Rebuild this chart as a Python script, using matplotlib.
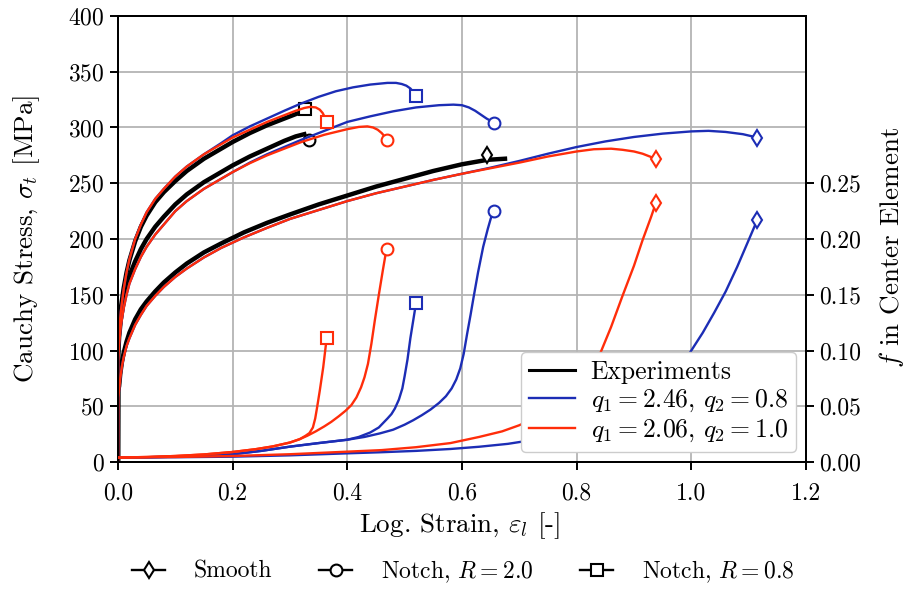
import matplotlib
matplotlib.use("Agg")
import matplotlib.pyplot as plt
from matplotlib.lines import Line2D
from matplotlib.ticker import FormatStrFormatter

plt.rcParams.update({
    "font.family": "serif",
    "font.serif": ["cmr10"],
    "mathtext.fontset": "cm",
    "axes.formatter.use_mathtext": True,
    "axes.unicode_minus": False,
    "font.size": 17,
})

BLUE = "#1c2db5"
RED = "#ff2d0a"

# ---------------- Cauchy stress [MPa] (left axis) ----------------
# Experiments
exp_smooth_strain = [0, 0.0003, 0.002, 0.004, 0.007, 0.01, 0.015, 0.02, 0.03, 0.04, 0.05, 0.065, 0.08, 0.1, 0.12,
                     0.15, 0.18, 0.22, 0.26, 0.3, 0.35, 0.4, 0.45, 0.5, 0.55, 0.6, 0.644, 0.675]
exp_smooth_stress = [0, 64, 68, 79, 90, 98, 108, 116, 128, 137, 144, 153, 161, 170, 178,
                     188, 196, 206, 214.5, 222, 231, 239, 247, 254, 261, 267, 271, 272]
exp_r20_strain = [0, 0.0003, 0.002, 0.005, 0.01, 0.015, 0.02, 0.03, 0.04, 0.05, 0.065, 0.08, 0.1, 0.12,
                  0.15, 0.18, 0.2, 0.23, 0.26, 0.29, 0.31, 0.325]
exp_r20_stress = [0, 95, 112, 128, 145, 157, 167, 180, 191, 200, 211, 220, 231, 240,
                  251, 260, 266, 274, 281, 288, 292, 294]
exp_r08_strain = [0, 0.0003, 0.002, 0.005, 0.01, 0.015, 0.02, 0.03, 0.04, 0.05, 0.065, 0.08, 0.1, 0.12,
                  0.15, 0.18, 0.2, 0.23, 0.26, 0.29, 0.31, 0.327]
exp_r08_stress = [0, 105, 122, 138, 156, 170, 181, 198, 211, 221, 233, 242, 252, 261,
                  272, 281, 287, 295, 302, 308, 312, 315]
# fracture points of the experiments
exp_fail_smooth = (0.644, 275)
exp_fail_r20 = (0.333, 289)
exp_fail_r08 = (0.327, 317)

# q1 = 2.46, q2 = 0.8
b_smooth_strain = [0, 0.0003, 0.002, 0.004, 0.007, 0.01, 0.015, 0.02, 0.03, 0.04, 0.05, 0.065, 0.08, 0.1, 0.12,
                   0.15, 0.18, 0.22, 0.26, 0.3, 0.35, 0.4, 0.45, 0.5, 0.55, 0.6, 0.65, 0.7, 0.75, 0.8, 0.85,
                   0.9, 0.95, 1.0, 1.03, 1.06, 1.09, 1.115]
b_smooth_stress = [0, 58, 64, 75, 86, 94, 104, 111, 123, 132, 140, 149, 157, 166, 173.5,
                   183.5, 192, 201.5, 210, 218, 226, 234, 241, 247, 253, 258.5, 264, 270, 276.5, 282.5, 287.5,
                   291.5, 294.5, 296.5, 297, 296, 294, 291]
b_r20_strain = [0, 0.0003, 0.002, 0.005, 0.01, 0.015, 0.02, 0.03, 0.04, 0.05, 0.065, 0.08, 0.1, 0.12,
                0.15, 0.18, 0.2, 0.23, 0.26, 0.29, 0.32, 0.36, 0.4, 0.44, 0.48, 0.52, 0.56, 0.585, 0.6,
                0.612, 0.623, 0.633, 0.643, 0.65, 0.655]
b_r20_stress = [0, 90, 106, 122, 138, 150, 160, 173, 184, 193, 204, 213, 225, 234,
                245, 254, 260, 268.5, 276, 282.5, 289, 297, 305, 310, 314.5, 318, 320, 320.5, 320,
                318, 315, 311.5, 308, 306, 304]
b_r08_strain = [0, 0.0003, 0.002, 0.005, 0.01, 0.015, 0.02, 0.03, 0.04, 0.05, 0.065, 0.08, 0.1, 0.12,
                0.15, 0.18, 0.2, 0.23, 0.26, 0.29, 0.317, 0.35, 0.38, 0.41, 0.44, 0.47, 0.485, 0.495,
                0.503, 0.51, 0.515, 0.52]
b_r08_stress = [0, 100, 118, 135, 155, 170, 182, 200, 213, 224, 236, 245, 256, 265,
                276, 286, 293, 301, 308, 315, 321, 327.5, 332.5, 336, 338.5, 340, 340, 339,
                337.5, 335, 332, 328]

# q1 = 2.06, q2 = 1.0
r_smooth_strain = [0, 0.0003, 0.002, 0.004, 0.007, 0.01, 0.015, 0.02, 0.03, 0.04, 0.05, 0.065, 0.08, 0.1, 0.12,
                   0.15, 0.18, 0.22, 0.26, 0.3, 0.35, 0.4, 0.45, 0.5, 0.55, 0.6, 0.65, 0.7, 0.75, 0.8, 0.83,
                   0.86, 0.88, 0.9, 0.915, 0.93, 0.938]
r_smooth_stress = [0, 58, 64, 75, 86, 94, 104, 111, 123, 132, 140, 149, 157, 166, 173.5,
                   183.5, 192, 201.5, 210, 218, 226, 234, 241, 247, 253, 258.5, 263.5, 268.5, 274, 278.5, 280.5,
                   281, 280, 278.5, 276.5, 273.5, 271.5]
r_r20_strain = [0, 0.0003, 0.002, 0.005, 0.01, 0.015, 0.02, 0.03, 0.04, 0.05, 0.065, 0.08, 0.1, 0.12,
                0.15, 0.18, 0.2, 0.23, 0.26, 0.29, 0.32, 0.36, 0.4, 0.42, 0.435, 0.445, 0.453, 0.46,
                0.465, 0.469]
r_r20_stress = [0, 90, 106, 122, 138, 150, 160, 173, 184, 193, 204, 213, 225, 234,
                245, 254, 260, 268, 275, 281, 287, 293.5, 298.5, 300.5, 301, 300, 298, 295,
                292, 289]
r_r08_strain = [0, 0.0003, 0.002, 0.005, 0.01, 0.015, 0.02, 0.03, 0.04, 0.05, 0.065, 0.08, 0.1, 0.12,
                0.15, 0.18, 0.2, 0.23, 0.26, 0.29, 0.31, 0.325, 0.335, 0.345, 0.352, 0.357, 0.361, 0.364]
r_r08_stress = [0, 100, 118, 135, 155, 170, 182, 200, 213, 224, 236, 245, 256, 265,
                276, 285, 291, 298, 305, 311, 315, 317.5, 318.5, 318, 316, 313, 309, 305]

# ---------------- void volume fraction f (right axis) ----------------
fb_smooth_strain = [0, 0.1, 0.2, 0.3, 0.4, 0.46, 0.52, 0.58, 0.63, 0.68, 0.72, 0.76, 0.8, 0.84, 0.88,
                    0.92, 0.95, 0.975, 1.0, 1.02, 1.04, 1.06, 1.08, 1.1, 1.115]
fb_smooth = [0.004, 0.0043, 0.0048, 0.006, 0.0078, 0.0088, 0.0100, 0.0117, 0.0137, 0.0163, 0.0195, 0.0235,
             0.028, 0.034, 0.042, 0.054, 0.066, 0.080, 0.100, 0.116, 0.134, 0.153, 0.175, 0.199, 0.217]
fb_r20_strain = [0, 0.05, 0.1, 0.15, 0.2, 0.25, 0.3, 0.35, 0.4, 0.43, 0.457, 0.48, 0.5, 0.515, 0.53, 0.545,
                 0.56, 0.572, 0.582, 0.59, 0.597, 0.603, 0.609, 0.615, 0.62, 0.628, 0.637, 0.645, 0.65, 0.655]
fb_r20 = [0.004, 0.0043, 0.0048, 0.0057, 0.0070, 0.0100, 0.0138, 0.0170, 0.0200, 0.0225, 0.0257, 0.029,
          0.0335, 0.0375, 0.042, 0.047, 0.053, 0.059, 0.066, 0.074, 0.084, 0.097, 0.115, 0.132, 0.147,
          0.170, 0.193, 0.209, 0.218, 0.2254]
fb_r08_strain = [0, 0.05, 0.1, 0.15, 0.2, 0.25, 0.3, 0.35, 0.4, 0.42, 0.44, 0.455, 0.47, 0.477, 0.483,
                 0.49, 0.496, 0.5, 0.505, 0.51, 0.515, 0.52]
fb_r08 = [0.004, 0.0043, 0.0048, 0.0057, 0.0070, 0.0100, 0.0138, 0.0170, 0.0200, 0.0225, 0.0265, 0.031,
          0.039, 0.043, 0.048, 0.056, 0.066, 0.077, 0.092, 0.111, 0.127, 0.143]

fr_smooth_strain = [0, 0.1, 0.2, 0.3, 0.4, 0.46, 0.52, 0.58, 0.63, 0.67, 0.7, 0.73, 0.76, 0.79, 0.815,
                    0.84, 0.86, 0.88, 0.9, 0.915, 0.93, 0.938]
fr_smooth = [0.004, 0.0045, 0.0054, 0.007, 0.0093, 0.0107, 0.0133, 0.017, 0.0225, 0.0275, 0.033, 0.040,
             0.049, 0.061, 0.075, 0.096, 0.121, 0.149, 0.176, 0.199, 0.220, 0.232]
fr_r20_strain = [0, 0.05, 0.1, 0.15, 0.2, 0.24, 0.27, 0.3, 0.317, 0.33, 0.345, 0.36, 0.372, 0.385, 0.397,
                 0.407, 0.416, 0.424, 0.43, 0.436, 0.442, 0.448, 0.455, 0.462, 0.467, 0.469]
fr_r20 = [0.004, 0.0045, 0.0054, 0.0068, 0.0090, 0.0115, 0.0140, 0.0175, 0.0205, 0.0235, 0.0275, 0.032,
          0.036, 0.041, 0.046, 0.051, 0.058, 0.067, 0.076, 0.088, 0.106, 0.127, 0.150, 0.172, 0.187, 0.191]
fr_r08_strain = [0, 0.05, 0.1, 0.15, 0.2, 0.24, 0.27, 0.3, 0.317, 0.327, 0.334, 0.34, 0.344, 0.347, 0.352,
                 0.358, 0.364]
fr_r08 = [0.004, 0.0045, 0.0054, 0.0068, 0.0090, 0.0115, 0.0140, 0.0175, 0.0205, 0.0235, 0.026, 0.031,
          0.039, 0.048, 0.064, 0.085, 0.111]

x_ticks = [0.0, 0.2, 0.4, 0.6, 0.8, 1.0, 1.2]
stress_ticks = [0, 50, 100, 150, 200, 250, 300, 350, 400]
f_ticks = [0.0, 0.05, 0.10, 0.15, 0.20, 0.25]

legend_labels = ["Experiments", r"$q_1 = 2.46$, $q_2 = 0.8$", r"$q_1 = 2.06$, $q_2 = 1.0$"]
geometry_labels = ["Smooth", r"Notch, $R = 2.0$", r"Notch, $R = 0.8$"]
geometry_markers = ["d", "o", "s"]

LW = 1.7
MS = 8.5
MEW = 1.5
LABEL_FS = 19.5

fig = plt.figure(figsize=(9.06, 5.90), dpi=100)
ax = fig.add_axes([0.1302, 0.2169, 0.7594, 0.7560])
ax2 = ax.twinx()

# experiments
for xs, ys in [(exp_smooth_strain, exp_smooth_stress), (exp_r20_strain, exp_r20_stress),
               (exp_r08_strain, exp_r08_stress)]:
    ax.plot(xs, ys, color="black", lw=3.2, solid_joinstyle="round", zorder=2)
for pt, mk in zip([exp_fail_smooth, exp_fail_r20, exp_fail_r08], geometry_markers):
    ax.plot([pt[0]], [pt[1]], ls="none", marker=mk, ms=MS, mfc="white", mec="black", mew=MEW, zorder=3)


def model(axis, xs, ys, color, mk):
    axis.plot(xs, ys, color=color, lw=LW, marker=mk, markevery=[len(xs) - 1],
              ms=MS, mfc="white", mec=color, mew=MEW, zorder=3)


stress_blue = [(b_smooth_strain, b_smooth_stress), (b_r20_strain, b_r20_stress), (b_r08_strain, b_r08_stress)]
stress_red = [(r_smooth_strain, r_smooth_stress), (r_r20_strain, r_r20_stress), (r_r08_strain, r_r08_stress)]
f_blue = [(fb_smooth_strain, fb_smooth), (fb_r20_strain, fb_r20), (fb_r08_strain, fb_r08)]
f_red = [(fr_smooth_strain, fr_smooth), (fr_r20_strain, fr_r20), (fr_r08_strain, fr_r08)]

for (xs, ys), mk in zip(stress_blue, geometry_markers):
    model(ax, xs, ys, BLUE, mk)
for (xs, ys), mk in zip(stress_red, geometry_markers):
    model(ax, xs, ys, RED, mk)
for (xs, ys), mk in zip(f_blue, geometry_markers):
    model(ax2, xs, ys, BLUE, mk)
for (xs, ys), mk in zip(f_red, geometry_markers):
    model(ax2, xs, ys, RED, mk)

ax.set_xlim(0, 1.2)
ax.set_ylim(0, 400)
ax2.set_ylim(0, 0.4)
ax.set_xticks(x_ticks)
ax.set_yticks(stress_ticks)
ax2.set_yticks(f_ticks)
ax.xaxis.set_major_formatter(FormatStrFormatter("%.1f"))
ax2.yaxis.set_major_formatter(FormatStrFormatter("%.2f"))

ax.set_axisbelow(True)
ax.grid(True, color="#b4b4b4", lw=1.3)

for a in (ax, ax2):
    for s in a.spines.values():
        s.set_linewidth(1.4)
    a.tick_params(width=1.4, length=6, labelsize=17)
ax.tick_params(axis="x", pad=9)

ax.set_xlabel(r"Log. Strain, $\varepsilon_l$ [-]", fontsize=LABEL_FS)
ax.set_ylabel(r"Cauchy Stress, $\sigma_t$ [MPa]", fontsize=LABEL_FS)
ax2.set_ylabel(r"$f$ in Center Element", fontsize=LABEL_FS)
ax.xaxis.set_label_coords(0.497, -0.108)
ax.yaxis.set_label_coords(-0.111, 0.5)
ax2.yaxis.set_label_coords(1.103, 0.48)

series_handles = [Line2D([], [], color=c, lw=2.2 if c == "black" else LW) for c in ["black", BLUE, RED]]
ax2.legend(series_handles, legend_labels, loc="lower right", fontsize=18.5,
           framealpha=1.0, edgecolor="#cccccc", fancybox=True, borderpad=0.3,
           labelspacing=0.15, handlelength=1.8, handletextpad=0.6, borderaxespad=0.4)

geo_handles = [Line2D([], [], color="black", lw=LW, marker=m, ms=MS, mfc="white", mec="black", mew=MEW)
               for m in geometry_markers]
fig.legend(geo_handles, geometry_labels, loc="lower center", bbox_to_anchor=(0.511, -0.027), ncol=3,
           frameon=False, fontsize=17, handlelength=1.4, handletextpad=1.2, columnspacing=2.0)

fig.savefig("out.png", dpi=100)
